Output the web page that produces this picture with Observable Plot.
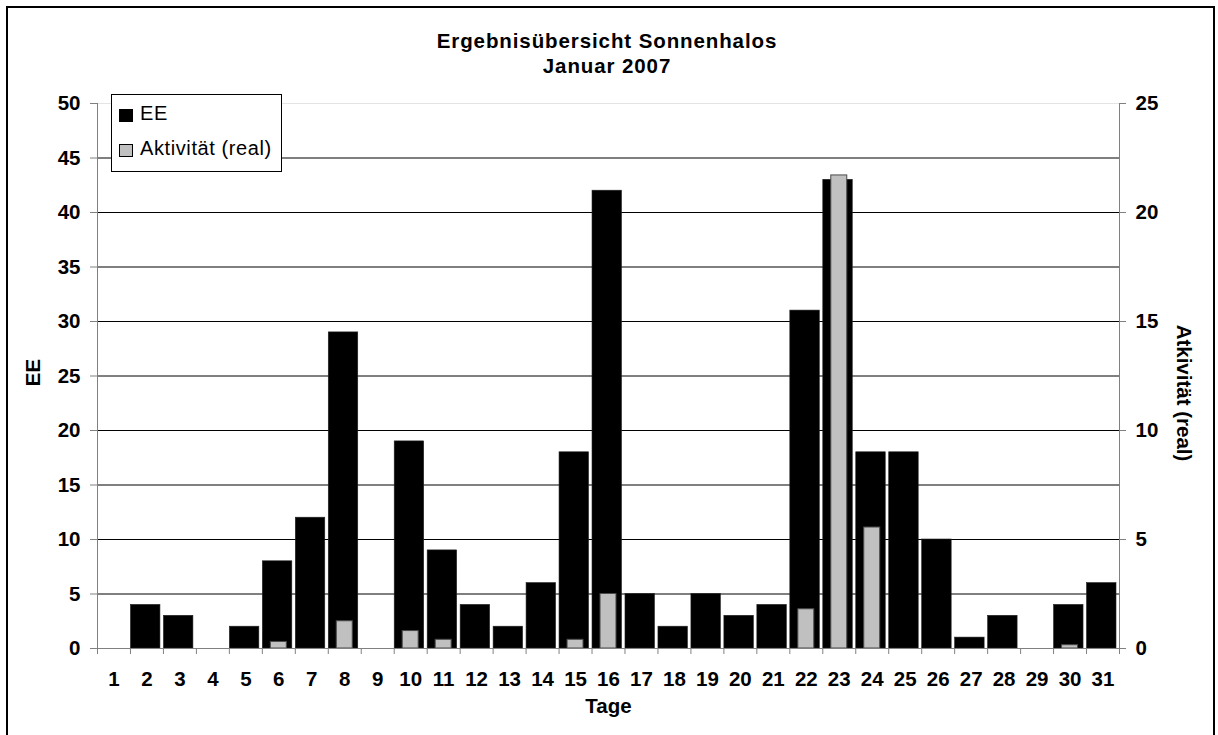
<!DOCTYPE html>
<html>
<head>
<meta charset="utf-8">
<script src="https://cdn.jsdelivr.net/npm/d3@7"></script>
<script src="https://cdn.jsdelivr.net/npm/@observablehq/plot@0.6"></script>
<style>
  html, body { margin: 0; padding: 0; background: #fff; }
  #wrap { position: relative; width: 1218px; height: 735px; overflow: hidden; font-family: "Liberation Sans", Arial, sans-serif; }
  #border { position: absolute; left: 6px; top: 6px; width: 1209px; height: 760px; border: 2px solid #000; box-sizing: border-box; pointer-events: none; }
  #title { position: absolute; left: 0; width: 1214px; top: 28px; text-align: center; font-weight: bold; font-size: 20.5px; line-height: 25px; color: #000; letter-spacing: 0.9px; }
  #legend { position: absolute; left: 111px; top: 94px; width: 171px; height: 78px; border: 1px solid #000; background: #fff; box-sizing: border-box; }
  .sw { position: absolute; width: 14px; height: 13px; box-sizing: border-box; border: 1px solid #000; }
  .lt { position: absolute; font-size: 20px; line-height: 20px; letter-spacing: 0.6px; color: #000; white-space: nowrap; }
  #chart { position: absolute; left: 0; top: 0; }
</style>
</head>
<body>
<div id="wrap">
  <div id="chart"></div>
  <div id="title"></div>
  <div id="legend"></div>
  <div id="border"></div>
</div>
<script>
const titleLines = ["Ergebnisübersicht Sonnenhalos", "Januar 2007"];
const days = d3.range(1, 32);
const ee = [0,4,3,0,2,8,12,29,0,19,9,4,2,6,18,42,5,2,5,3,4,31,43,18,18,10,1,3,0,4,6];
const akt = [0,0,0,0,0,0.3,0,1.25,0,0.8,0.4,0,0,0,0.4,2.5,0,0,0,0,0,1.8,21.7,5.55,0,0,0,0,0,0.15,0];
const leftTicks = [0,5,10,15,20,25,30,35,40,45,50];
const rightTicks = [0,5,10,15,20,25];
const seriesNames = ["EE", "Aktivität (real)"];
const seriesColors = ["#000000", "#c0c0c0"];
const xLabel = "Tage";
const yLabelLeft = "EE";
const yLabelRight = "Atkivität (real)";

const ratio = leftTicks[leftTicks.length - 1] / rightTicks[rightTicks.length - 1];
const rows = days.map((d, i) => ({day: d, ee: ee[i], akt: akt[i]}));
const bounds = d3.range(days[0] - 0.5, days[days.length - 1] + 1, 1);
const xExt = [bounds[0], bounds[bounds.length - 1]];

document.getElementById("title").innerHTML = titleLines.map(t => `<div>${t}</div>`).join("");

const legend = document.getElementById("legend");
legend.innerHTML = `
  <div class="sw" style="left:7px;top:14px;background:${seriesColors[0]}"></div>
  <div class="lt" style="left:28px;top:8px">${seriesNames[0]}</div>
  <div class="sw" style="left:7px;top:49px;background:${seriesColors[1]}"></div>
  <div class="lt" style="left:28px;top:43px">${seriesNames[1]}</div>`;

const fs = 20.5;
const chart = Plot.plot({
  width: 1218,
  height: 735,
  marginLeft: 97,
  marginRight: 99,
  marginTop: 103,
  marginBottom: 87,
  x: {domain: xExt},
  y: {domain: [leftTicks[0], leftTicks[leftTicks.length - 1]]},
  style: {fontFamily: "'Liberation Sans', Arial, sans-serif", fontSize: fs + "px", fontWeight: "bold", color: "#000", background: "transparent", overflow: "visible"},
  marks: [
    Plot.gridY({ticks: leftTicks.slice(1, -1), stroke: "#000", strokeOpacity: 1, strokeWidth: 1}),
    Plot.gridY({ticks: leftTicks.slice(-1), stroke: "#e4e4e4", strokeOpacity: 1, strokeWidth: 1}),
    Plot.rectY(rows.filter(d => d.ee > 0), {
      x1: d => d.day - 0.5, x2: d => d.day + 0.5, y: "ee",
      fill: seriesColors[0], stroke: "#222", strokeWidth: 0.6, insetLeft: 0.5, insetRight: 3
    }),
    Plot.rectY(rows.filter(d => d.akt > 0), {
      x1: d => d.day - 0.5, x2: d => d.day + 0.5, y: d => d.akt * ratio,
      fill: seriesColors[1], stroke: "#4a4a4a", strokeWidth: 1, insetLeft: 8.5, insetRight: 8.5
    }),
    Plot.ruleY([0], {stroke: "#808080"}),
    Plot.ruleX(xExt, {stroke: "#808080"}),
    Plot.axisY({ticks: leftTicks, anchor: "left", tickSize: 7, tickPadding: 10, stroke: "#808080", fill: "#000", label: null}),
    Plot.axisY({ticks: rightTicks.map(t => t * ratio), anchor: "right", tickFormat: d => d / ratio, tickSize: 6, tickPadding: 10, stroke: "#808080", fill: "#000", label: null}),
    Plot.axisX({ticks: bounds, tickFormat: () => "", tickSize: 6, stroke: "#808080", label: null}),
    Plot.axisX({ticks: days, tickSize: 0, tickPadding: 23, fill: "#000", label: null}),
    Plot.text([yLabelLeft], {frameAnchor: "left", textAnchor: "middle", lineAnchor: "middle", dx: -64, dy: -3.5, rotate: -90, fontSize: fs, fontWeight: "bold", fill: "#000"}),
    Plot.text([yLabelRight], {frameAnchor: "right", textAnchor: "middle", lineAnchor: "middle", dx: 64, dy: 17, rotate: 90, fontSize: fs, fontWeight: "bold", fill: "#000", letterSpacing: 0.6}),
    Plot.text([xLabel], {frameAnchor: "bottom", textAnchor: "middle", lineAnchor: "middle", dy: 58, fontSize: fs, fontWeight: "bold", fill: "#000"})
  ]
});
document.getElementById("chart").appendChild(chart);
</script>
</body>
</html>
